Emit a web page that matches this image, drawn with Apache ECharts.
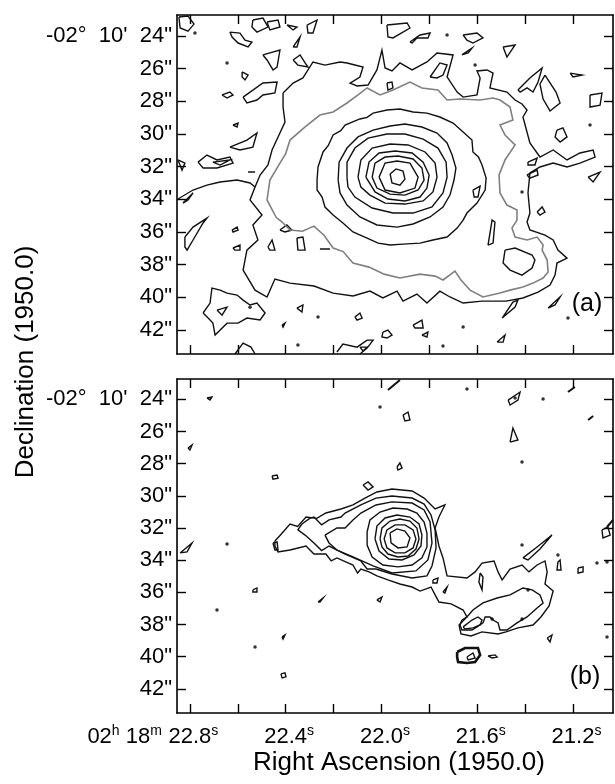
<!DOCTYPE html>
<html><head><meta charset="utf-8">
<script src="https://cdn.jsdelivr.net/npm/echarts/dist/echarts.min.js"></script>
<style>html,body{margin:0;padding:0;background:#fff}#c{width:615px;height:784px}</style>
</head><body><div id="c"></div><script>
// ---- axes data ----
const raTicks = [22.8, 22.6, 22.4, 22.2, 22.0, 21.8, 21.6, 21.4, 21.2];
const raLabels = [22.8, 22.4, 22.0, 21.6, 21.2];
const decTicks = [24, 26, 28, 30, 32, 34, 36, 38, 40, 42];
const raRange = [21.033, 22.854];
const decRangeA = [22.714, 43.47];
const decRangeB = [22.74, 43.50];

// ---- panel (a) contours [RA s, Dec arcsec] ----
const aRing1 = [[21.964,32.45],[21.939,32.14],[21.910,32.27],[21.902,32.76],[21.923,33.13],[21.956,33.00]];
const aRing2 = [[22.010,32.64],[21.985,31.78],[21.935,31.65],[21.881,31.78],[21.847,32.64],[21.860,33.31],[21.923,33.61],[21.985,33.43]];
const aRing3 = [[22.039,32.64],[22.027,31.78],[21.985,31.41],[21.931,31.35],[21.868,31.53],[21.831,32.08],[21.822,32.82],[21.847,33.43],[21.902,33.74],[21.964,33.68],[22.019,33.31]];
const aRing4 = [[22.065,32.64],[22.052,31.72],[22.010,31.16],[21.943,31.04],[21.872,31.16],[21.826,31.72],[21.801,32.51],[21.810,33.31],[21.839,33.86],[21.902,34.10],[21.973,33.98],[22.027,33.55]];
const aRing5 = [[22.098,32.64],[22.086,31.59],[22.039,30.86],[21.964,30.61],[21.889,30.67],[21.818,31.10],[21.776,31.78],[21.768,32.64],[21.785,33.55],[21.826,34.10],[21.902,34.29],[21.985,34.23],[22.048,33.74],[22.086,33.25]];
const aRing6 = [[22.144,32.64],[22.144,31.72],[22.111,30.86],[22.056,30.25],[21.977,30.00],[21.902,30.00],[21.826,30.31],[21.764,30.86],[21.730,31.72],[21.726,32.64],[21.743,33.61],[21.789,34.47],[21.868,34.84],[21.952,34.84],[22.039,34.53],[22.111,33.86],[22.140,33.25]];
const aRing7 = [[22.181,32.82],[22.177,31.72],[22.144,30.86],[22.098,30.18],[22.035,29.76],[21.964,29.51],[21.902,29.39],[21.831,29.57],[21.768,29.94],[21.726,30.55],[21.705,31.29],[21.689,32.08],[21.697,32.82],[21.714,33.74],[21.743,34.47],[21.797,35.08],[21.868,35.51],[21.935,35.70],[22.019,35.57],[22.090,35.08],[22.144,34.35],[22.173,33.61]];
const aRing8 = [[22.269,32.82],[22.265,32.02],[22.244,31.10],[22.222,30.70],[22.202,30.06],[22.170,29.80],[22.152,29.45],[22.090,29.08],[22.060,28.98],[22.035,28.72],[21.977,28.53],[21.923,28.47],[21.868,28.65],[21.810,28.72],[21.756,28.96],[21.701,29.33],[21.659,29.88],[21.622,30.37],[21.618,31.10],[21.595,31.40],[21.580,31.90],[21.563,32.70],[21.567,33.43],[21.601,34.23],[21.643,34.84],[21.659,35.27],[21.684,35.76],[21.726,36.31],[21.785,36.49],[21.839,36.68],[21.910,36.74],[21.964,36.80],[22.014,36.68],[22.060,36.37],[22.119,36.00],[22.161,35.45],[22.202,34.96],[22.236,34.47],[22.248,33.86],[22.269,33.43]];
const aRing9 = [[22.319,29.57],[22.257,28.84],[22.202,28.65],[22.144,28.10],[22.098,27.61],[22.060,27.18],[22.006,27.61],[21.952,27.31],[21.881,26.82],[21.831,27.18],[21.764,27.31],[21.726,27.92],[21.672,27.86],[21.588,27.92],[21.534,27.80],[21.505,27.92],[21.463,28.35],[21.451,29.14],[21.505,29.45],[21.484,30.06],[21.442,30.67],[21.484,31.59],[21.509,32.51],[21.505,33.61],[21.476,34.35],[21.434,34.66],[21.434,35.27],[21.455,35.76],[21.442,36.31],[21.392,36.49],[21.350,36.31],[21.325,36.80],[21.329,37.11],[21.308,37.72],[21.304,38.45],[21.325,38.82],[21.367,39.13],[21.409,39.37],[21.463,39.56],[21.505,39.74],[21.576,39.98],[21.630,39.56],[21.668,38.94],[21.693,38.39],[21.743,38.94],[21.776,38.70],[21.839,38.58],[21.923,38.82],[21.989,38.58],[22.052,38.15],[22.119,37.90],[22.160,37.20],[22.202,36.98],[22.240,36.20],[22.282,35.64],[22.330,35.95],[22.382,35.88],[22.415,35.39],[22.440,35.10],[22.478,34.04],[22.466,32.82],[22.424,31.78],[22.400,31.20],[22.382,30.37]];
const aIsland = [[21.484,37.11],[21.442,36.98],[21.371,37.41],[21.359,37.72],[21.371,38.21],[21.413,38.64],[21.463,38.33],[21.492,37.90]];
const aRing10 = [[22.411,27.49],[22.369,26.88],[22.328,26.57],[22.286,25.59],[22.236,25.78],[22.173,25.59],[22.144,25.65],[22.077,25.90],[22.090,26.51],[22.131,26.88],[22.102,27.06],[22.056,27.00],[22.019,26.08],[21.998,24.86],[21.985,25.96],[21.956,26.14],[21.923,25.65],[21.872,26.08],[21.810,25.59],[21.768,25.04],[21.701,25.16],[21.726,26.51],[21.684,27.43],[21.659,27.74],[21.601,27.61],[21.588,26.57],[21.601,26.14],[21.559,26.08],[21.534,26.27],[21.547,27.18],[21.476,27.43],[21.442,27.92],[21.413,28.16],[21.392,28.53],[21.409,28.96],[21.380,30.55],[21.338,31.41],[21.283,30.98],[21.225,31.59],[21.171,31.16],[21.116,30.98],[21.108,31.41],[21.171,31.78],[21.225,32.02],[21.283,31.78],[21.338,32.02],[21.380,32.39],[21.388,33.61],[21.380,34.84],[21.392,35.39],[21.380,35.88],[21.317,36.19],[21.283,36.49],[21.263,37.11],[21.225,37.60],[21.267,37.90],[21.275,38.64],[21.296,39.25],[21.346,39.68],[21.409,40.04],[21.480,40.23],[21.580,40.23],[21.659,40.35],[21.714,39.98],[21.756,39.62],[21.810,40.35],[21.852,39.80],[21.910,40.23],[21.935,39.62],[21.994,40.04],[22.048,39.62],[22.119,39.92],[22.202,39.74],[22.282,39.31],[22.382,39.13],[22.445,38.88],[22.478,39.98],[22.528,39.56],[22.578,38.33],[22.562,37.11],[22.516,36.49],[22.537,35.57],[22.499,34.96],[22.549,34.04],[22.528,33.25],[22.507,32.51],[22.474,31.90],[22.457,30.98],[22.432,30.18],[22.403,29.27],[22.411,28.35]];
const aBlobs = [
  [[22.846,22.84],[22.808,22.78],[22.783,23.27],[22.808,23.70],[22.841,23.51]],
  [[22.633,23.76],[22.591,23.82],[22.570,24.25],[22.541,24.37],[22.557,24.67],[22.599,24.43],[22.624,24.06]],
  [[22.537,23.02],[22.495,22.90],[22.474,23.45],[22.520,23.76],[22.541,23.45]],
  [[22.478,23.14],[22.432,23.02],[22.424,23.45],[22.466,23.63]],
  [[22.395,23.33],[22.353,23.45],[22.369,23.63]],
  [[22.369,24.67],[22.340,24.06],[22.353,24.67]],
  [[22.495,25.16],[22.424,24.86],[22.436,25.90],[22.453,26.08],[22.478,25.47]],
  [[22.369,25.47],[22.340,25.16],[22.319,25.65],[22.307,25.90],[22.349,25.78]],
  [[22.582,26.20],[22.557,26.39],[22.570,26.69],[22.582,26.51]],
  [[22.666,27.61],[22.633,27.43],[22.620,27.61],[22.645,27.80]],
  [[22.578,27.74],[22.495,26.88],[22.436,26.82],[22.445,27.49],[22.495,27.61],[22.520,27.92],[22.562,28.10]],
  [[22.620,29.45],[22.599,29.33],[22.603,29.57]],
  [[22.633,30.80],[22.562,30.37],[22.520,29.94],[22.537,30.80],[22.591,30.98]],
  [[22.766,31.72],[22.729,31.29],[22.687,31.59],[22.633,31.41],[22.620,31.78],[22.687,32.08],[22.745,32.08]],
  [[22.704,31.72],[22.633,31.59],[22.674,31.90]],
  [[22.850,31.59],[22.821,31.78],[22.833,32.21]],
  [[22.311,23.33],[22.269,23.02],[22.286,23.82],[22.307,23.82]],
  [[21.977,23.33],[21.893,23.20],[21.881,23.51],[21.952,24.12],[21.973,24.06]],
  [[21.881,24.37],[21.839,23.94],[21.797,23.82],[21.806,24.12],[21.852,24.12],[21.872,24.43]],
  [[21.659,23.94],[21.601,23.82],[21.576,24.12],[21.618,24.43],[21.643,24.25]],
  [[21.664,25.16],[21.622,24.74],[21.638,25.04]],
  [[21.492,24.67],[21.442,24.55],[21.476,25.29]],
  [[21.797,26.51],[21.756,25.65],[21.726,25.78],[21.743,26.39],[21.768,26.57]],
  [[21.977,26.88],[21.956,26.82],[21.952,27.18],[21.973,27.31]],
  [[21.430,27.31],[21.380,26.57],[21.329,25.96],[21.346,26.82],[21.367,27.43],[21.392,27.18],[21.421,27.43]],
  [[21.317,26.39],[21.271,27.43],[21.254,28.10],[21.296,28.59],[21.325,27.86],[21.338,26.94]],
  [[21.212,26.27],[21.162,26.39],[21.200,26.51]],
  [[21.129,27.61],[21.079,27.49],[21.087,28.23],[21.129,28.35]],
  [[21.267,29.76],[21.242,29.63],[21.225,30.18],[21.254,30.49],[21.275,30.18]],
  [[21.137,32.64],[21.087,32.33],[21.116,32.94]],
  [[21.388,31.72],[21.350,31.47],[21.359,31.90],[21.388,31.90]],
  [[21.392,32.51],[21.350,32.21],[21.346,32.51],[21.380,32.70]],
  [[21.618,33.43],[21.588,33.19],[21.597,33.86],[21.613,33.86]],
  [[21.555,36.80],[21.538,35.27],[21.526,35.39],[21.534,36.68]],
  [[21.350,34.78],[21.329,34.47],[21.317,34.78],[21.338,34.96]],
  [[21.304,40.66],[21.254,39.98],[21.275,40.47]],
  [[21.496,41.27],[21.451,40.29],[21.430,40.17],[21.442,40.60]],
  [[21.868,41.70],[21.831,41.39],[21.826,41.88],[21.860,41.88]],
  [[21.831,42.31],[21.806,42.13],[21.810,42.43]],
  [[21.517,42.74],[21.484,42.31],[21.492,42.74]],
  [[22.829,34.23],[22.787,33.61],[22.808,34.04]],
  [[22.821,36.31],[22.787,35.70],[22.729,35.15],[22.745,35.45],[22.787,36.49],[22.812,37.11],[22.821,36.92]],
  [[22.624,35.88],[22.603,35.70],[22.599,35.88],[22.620,36.00]],
  [[22.620,36.98],[22.591,36.80],[22.591,37.11],[22.612,37.11]],
  [[22.474,36.92],[22.457,36.49],[22.445,37.11],[22.466,37.11]],
  [[22.353,36.37],[22.328,36.31],[22.319,37.11],[22.349,37.11]],
  [[22.424,35.88],[22.395,35.57],[22.374,35.88],[22.403,36.00]],
  [[22.745,40.96],[22.716,40.35],[22.708,39.43],[22.674,39.56],[22.645,39.74],[22.603,39.86],[22.578,40.17],[22.549,40.47],[22.520,40.35],[22.486,40.96],[22.507,41.39],[22.562,41.27],[22.599,41.58],[22.645,41.58],[22.695,42.31],[22.704,41.58],[22.724,41.27]],
  [[22.687,40.78],[22.645,40.60],[22.666,41.09]],
  [[22.353,40.66],[22.328,40.47],[22.332,40.90]],
  [[22.415,41.70],[22.403,41.58],[22.411,41.82]],
  [[22.111,41.21],[22.090,40.96],[22.081,41.27],[22.102,41.39]],
  [[21.994,42.13],[21.973,42.00],[21.956,42.31],[21.977,42.49],[21.998,42.43]],
  [[22.090,43.05],[22.060,43.05],[22.077,43.29]]
];
const aOpen = [
  [[22.850,33.98],[22.787,33.43],[22.729,33.13],[22.674,32.94],[22.603,32.82],[22.549,33.00],[22.528,33.25]],
  [[22.557,32.33],[22.528,32.33]],
  [[22.257,37.04],[22.215,37.04]],
  [[22.186,43.35],[22.161,42.86],[22.102,43.05],[22.060,42.62],[22.035,42.62],[22.060,43.11],[22.090,43.47]],
  [[22.612,43.47],[22.578,42.80],[22.545,43.05],[22.528,43.47]]
];
const aDots = [[22.779,23.82],[22.645,25.65],[21.726,23.94],[21.609,25.78],[21.129,29.45],[21.413,33.55],[21.221,41.27],[21.659,41.82],[22.549,40.60],[22.265,41.21],[21.743,42.98],[22.349,42.92]];

// ---- panel (b) contours ----
const bRing1 = [[21.964,32.31],[21.935,32.06],[21.902,32.19],[21.881,32.62],[21.893,33.18],[21.931,33.24],[21.960,32.93]];
const bRing2 = [[21.989,32.68],[21.977,32.12],[21.943,31.81],[21.902,31.81],[21.868,32.12],[21.856,32.68],[21.868,33.24],[21.902,33.55],[21.943,33.55],[21.977,33.24]];
const bRing3 = [[22.006,32.68],[21.998,32.00],[21.964,31.57],[21.923,31.44],[21.881,31.57],[21.852,32.00],[21.843,32.68],[21.856,33.31],[21.889,33.74],[21.931,33.80],[21.973,33.62],[21.998,33.18]];
const bRing4 = [[22.027,32.68],[22.019,31.88],[21.985,31.38],[21.935,31.19],[21.881,31.32],[21.843,31.75],[21.831,32.44],[21.835,33.12],[21.864,33.68],[21.914,33.99],[21.969,33.93],[22.010,33.43]];
const bRing5 = [[22.060,32.25],[22.048,31.50],[22.006,31.01],[21.952,30.76],[21.893,30.82],[21.852,31.07],[21.822,31.63],[21.810,32.31],[21.810,33.18],[21.831,33.86],[21.872,34.30],[21.931,34.42],[21.994,34.30],[22.039,33.80],[22.060,33.06]];
const bEnvC = [[22.236,32.44],[22.186,32.00],[22.152,32.00],[22.119,31.50],[22.086,31.07],[22.023,30.57],[21.956,30.38],[21.872,30.45],[21.822,30.88],[21.797,31.63],[21.789,32.93],[21.806,33.99],[21.856,34.67],[21.956,34.80],[22.035,34.36],[22.119,33.80],[22.186,33.37],[22.219,32.93]];
const bEnvB = [[22.332,31.75],[22.300,31.40],[22.282,31.32],[22.250,31.80],[22.219,31.50],[22.169,31.32],[22.152,31.07],[22.086,30.57],[22.023,30.14],[21.956,30.01],[21.872,30.14],[21.822,30.51],[21.793,31.19],[21.776,32.12],[21.772,33.24],[21.789,34.36],[21.810,34.98],[21.872,35.11],[21.956,34.86],[22.023,34.55],[22.060,34.55],[22.086,34.05],[22.152,33.62],[22.219,33.12],[22.250,33.40],[22.282,32.93],[22.319,32.44],[22.349,32.12]];
const bEnvA = [[22.445,32.81],[22.420,32.40],[22.382,31.75],[22.350,31.90],[22.315,31.32],[22.270,31.40],[22.232,31.07],[22.169,30.82],[22.119,30.57],[22.069,30.14],[22.019,29.76],[21.956,29.58],[21.872,29.70],[21.822,30.14],[21.776,30.82],[21.735,30.57],[21.760,31.32],[21.776,32.00],[21.760,33.12],[21.743,33.86],[21.726,34.98],[21.643,35.11],[21.609,34.73],[21.580,34.18],[21.530,34.05],[21.513,34.73],[21.496,35.23],[21.463,34.55],[21.413,34.30],[21.384,34.73],[21.350,34.30],[21.317,34.05],[21.308,34.73],[21.317,35.48],[21.283,35.92],[21.300,36.85],[21.334,37.53],[21.367,38.03],[21.430,38.21],[21.480,38.46],[21.513,38.59],[21.580,38.46],[21.626,38.71],[21.668,38.59],[21.676,38.03],[21.643,37.53],[21.659,37.10],[21.709,36.72],[21.760,36.60],[21.776,36.16],[21.793,35.67],[21.839,35.92],[21.872,35.67],[21.923,35.48],[21.973,35.23],[22.019,34.98],[22.052,34.73],[22.086,34.55],[22.100,34.80],[22.119,34.30],[22.186,33.86],[22.210,34.05],[22.232,33.62],[22.282,33.62],[22.315,33.12],[22.382,33.37],[22.432,33.49],[22.445,33.12]];
const bTail2 = [[21.664,37.72],[21.643,37.53],[21.618,37.10],[21.576,36.66],[21.517,36.35],[21.463,36.16],[21.409,35.73],[21.371,35.85],[21.338,36.16],[21.325,36.66],[21.350,36.97],[21.392,37.53],[21.434,37.90],[21.476,38.34],[21.505,38.34],[21.513,37.90],[21.534,37.72],[21.547,37.53],[21.567,37.53],[21.576,37.90],[21.601,38.15],[21.622,38.34],[21.664,38.34],[21.672,38.03]];
const bTail3 = [[21.659,38.15],[21.622,37.72],[21.597,37.53],[21.580,37.72],[21.588,38.03],[21.618,38.21],[21.651,38.28]];
const bBlob40 = [[21.684,39.71],[21.651,39.46],[21.597,39.46],[21.588,39.89],[21.609,40.33],[21.643,40.39],[21.680,40.33],[21.684,40.02]];
const bBlobs = [
  [[21.643,40.02],[21.618,39.77],[21.609,40.08],[21.638,40.20]],
  [[21.555,39.95],[21.526,39.89],[21.517,40.02],[21.538,40.08]],
  [[21.308,38.84],[21.288,38.65],[21.296,39.08]],
  [[21.588,34.80],[21.576,35.05],[21.580,35.85],[21.593,35.36]],
  [[21.409,33.86],[21.350,33.18],[21.288,32.44],[21.338,33.31],[21.388,33.99]],
  [[21.910,24.98],[21.889,24.79],[21.881,25.29],[21.902,25.35]],
  [[21.471,24.05],[21.421,23.55],[21.430,24.05],[21.463,24.36]],
  [[21.463,26.66],[21.451,25.79],[21.430,26.53]],
  [[21.935,28.21],[21.923,27.96],[21.914,28.27],[21.931,28.40]],
  [[22.077,29.33],[22.056,29.14],[22.035,29.45],[22.056,29.64]],
  [[22.729,23.92],[22.708,23.86],[22.716,24.05]],
  [[22.808,27.03],[22.791,26.84],[22.800,27.15]],
  [[22.457,28.77],[22.436,28.71],[22.432,28.90],[22.453,28.96]],
  [[22.453,32.93],[22.436,32.87],[22.432,33.37],[22.445,33.37]],
  [[22.841,33.55],[22.791,32.93],[22.812,33.49]],
  [[22.537,35.85],[22.520,35.73],[22.520,35.98],[22.537,35.98]],
  [[22.265,36.60],[22.244,36.35],[22.257,36.60]],
  [[22.415,38.77],[22.403,38.65],[22.411,38.90]],
  [[22.420,41.07],[22.403,41.01],[22.399,41.25],[22.415,41.32]],
  [[22.019,36.47],[21.998,36.29],[22.006,36.60]],
  [[21.785,35.23],[21.764,35.11],[21.768,35.42],[21.785,35.42]],
  [[21.743,35.98],[21.726,35.67],[21.735,36.04]],
  [[21.079,32.12],[21.054,31.94],[21.045,32.44],[21.075,32.62]],
  [[21.263,34.11],[21.254,33.99],[21.250,34.61],[21.267,34.61]],
  [[21.179,34.49],[21.158,34.42],[21.158,34.73],[21.179,34.80]]
];
const bOpen = [
  [[21.973,23.42],[21.923,22.80]],
  [[21.221,23.55],[21.192,23.24]],
  [[21.137,25.29],[21.116,25.04]],
  [[21.058,31.94],[21.033,31.50]]
];
const bDots = [[21.643,23.36],[22.006,24.48],[21.442,23.92],[21.325,23.98],[21.413,27.90],[22.645,33.00],[22.687,37.10],[22.528,39.40],[21.538,37.66],[21.413,37.66],[21.388,35.85],[21.413,33.06],[21.263,33.68],[21.100,34.18],[21.058,34.11],[21.058,38.77]];

// ---- build ----
const FONT = '"Liberation Sans", Arial, sans-serif';
const closed = list => list.map(c => ({coords: c.concat([c[0]])}));
const open = list => list.map(c => ({coords: c}));

function xAx(grid, pos, labels) {
  return {
    type: 'value', gridIndex: grid, position: pos, inverse: true,
    min: raRange[0], max: raRange[1],
    splitLine: {show: false},
    axisLine: {show: true, onZero: false, lineStyle: {color: '#000', width: 1.6}},
    axisTick: {show: true, inside: true, length: 9, customValues: raTicks, lineStyle: {color: '#000', width: 1.4}},
    axisLabel: labels ? {
      show: true, customValues: raLabels, margin: 11, color: '#000',
      formatter: v => '{h|s}{n|' + v.toFixed(1) + '}{s|s}',
      rich: {
        n: {fontSize: 22, fontFamily: FONT, color: '#000', lineHeight: 26, verticalAlign: 'middle'},
        s: {fontSize: 14, fontFamily: FONT, color: '#000', lineHeight: 26, verticalAlign: 'top'},
        h: {fontSize: 14, fontFamily: FONT, color: 'rgba(0,0,0,0)', lineHeight: 26, verticalAlign: 'top'}
      }
    } : {show: false}
  };
}
function yAx(grid, pos, range, labels) {
  return {
    type: 'value', gridIndex: grid, position: pos, inverse: true,
    min: range[0], max: range[1],
    splitLine: {show: false},
    axisLine: {show: true, onZero: false, lineStyle: {color: '#000', width: 1.6}},
    axisTick: {show: true, inside: true, length: 9, customValues: decTicks, lineStyle: {color: '#000', width: 1.4}},
    axisLabel: labels ? {
      show: true, customValues: decTicks, margin: 5, color: '#000',
      fontSize: 22, fontFamily: FONT,
      formatter: v => v === 24 ? '-02°  10\'  24"' : v + '"'
    } : {show: false}
  };
}
function linesSeries(x, y, data, color, width) {
  return {
    type: 'lines', coordinateSystem: 'cartesian2d', polyline: true,
    xAxisIndex: x, yAxisIndex: y, clip: true, silent: true,
    lineStyle: {color: color, width: width, opacity: 1},
    data: data
  };
}
function dotSeries(x, y, data) {
  return {type: 'scatter', xAxisIndex: x, yAxisIndex: y, symbolSize: 3.5,
    itemStyle: {color: '#000'}, data: data, silent: true};
}

const option = {
  animation: false,
  backgroundColor: '#fff',
  grid: [
    {left: 177, top: 15, width: 436, height: 339},
    {left: 177, top: 379, width: 436, height: 334}
  ],
  xAxis: [xAx(0, 'bottom', false), xAx(0, 'top', false), xAx(1, 'bottom', true), xAx(1, 'top', false)],
  yAxis: [yAx(0, 'left', decRangeA, true), yAx(0, 'right', decRangeA, false), yAx(1, 'left', decRangeB, true), yAx(1, 'right', decRangeB, false)],
  series: [
    linesSeries(0, 0, closed([aRing1, aRing2, aRing3, aRing4, aRing5, aRing6, aRing7, aRing8, aRing10, aIsland].concat(aBlobs)), '#111', 1.4),
    linesSeries(0, 0, closed([aRing9]), '#808080', 1.6),
    linesSeries(0, 0, open(aOpen), '#111', 1.4),
    dotSeries(0, 0, aDots),
    linesSeries(2, 2, closed([bRing1, bRing2, bRing3, bRing4, bRing5, bEnvC, bEnvB, bEnvA, bTail2, bTail3].concat(bBlobs)), '#111', 1.4),
    linesSeries(2, 2, closed([bBlob40]), '#111', 2.6),
    linesSeries(2, 2, open(bOpen), '#111', 2),
    dotSeries(2, 2, bDots)
  ],
  graphic: [
    {type: 'text', x: 26, y: 362, rotation: Math.PI / 2, style: {text: 'Declination (1950.0)', font: '26px ' + FONT, fill: '#000', align: 'center', verticalAlign: 'middle'}},
    {type: 'text', x: 399, y: 763, style: {text: 'Right Ascension (1950.0)', font: '26px ' + FONT, fill: '#000', align: 'center', verticalAlign: 'middle'}},
    {type: 'text', x: 587, y: 304, style: {text: '(a)', font: '25px ' + FONT, fill: '#000', align: 'center', verticalAlign: 'middle'}},
    {type: 'text', x: 585, y: 677, style: {text: '(b)', font: '25px ' + FONT, fill: '#000', align: 'center', verticalAlign: 'middle'}},
    {type: 'text', x: 168, y: 737, style: {
      text: '{n|02}{s|h}{n| 18}{s|m}{n| }', align: 'right', verticalAlign: 'middle',
      rich: {
        n: {fontSize: 22, fontFamily: FONT, fill: '#000', lineHeight: 26, verticalAlign: 'middle'},
        s: {fontSize: 14, fontFamily: FONT, fill: '#000', lineHeight: 26, verticalAlign: 'top'}
      }}}
  ]
};
const chart = echarts.init(document.getElementById('c'), null, {renderer: 'canvas'});
chart.setOption(option);
</script></body></html>
